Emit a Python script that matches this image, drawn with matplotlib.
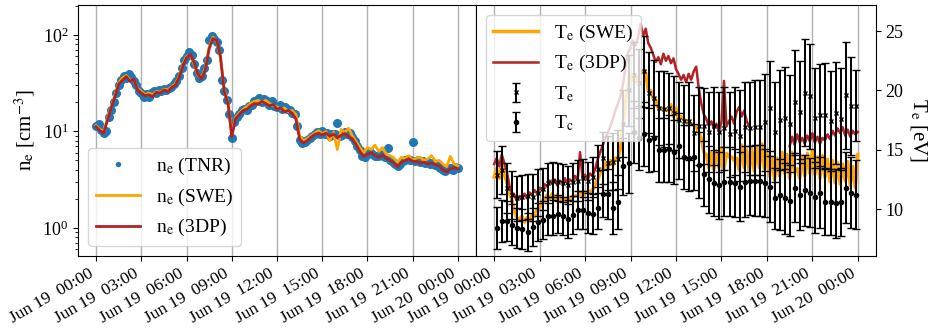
import numpy as np
import pandas as pd
import matplotlib
matplotlib.use("Agg")
import matplotlib.pyplot as plt
import matplotlib.dates as mdates

plt.rcParams['font.family'] = ['Liberation Serif', 'DejaVu Serif']
plt.rcParams['mathtext.fontset'] = 'stix'

# densidad electronica (cm^-3)
ne_tnr = [11.5, 12.0, 10.4, 9.6, 10.2, 14.0, 16.5, 20.0, 25.0, 30.0, 34.0, 38.0,
          36.0, 39.0, 37.0, 33.0, 30.0, 26.0, 25.0, 23.0, 24.5, 23.0, 25.0, 26.5,
          25.0, 27.0, 26.0, 27.5, 27.0, 28.5, 29.0, 31.0, 33.0, 38.0, 45.0, 55.0,
          60.0, 66.0, 62.0, 50.0, 40.0, 36.0, 38.0, 45.0, 55.0, 88.0, 98.0, 92.0,
          85.0, 70.0, 34.0, 26.0, 21.0, 15.0, 8.5, 12.5, 14.0, 15.0, 16.5, 17.0,
          16.5, 18.5, 19.0, 20.5, 21.0, 22.0, 20.0, 21.5, 20.5, 19.0, 20.5, 18.5,
          18.0, 19.0, 17.0, 18.0, 17.0, 16.5, 15.5, 15.0, 11.5, 8.2, 7.5, 7.8,
          8.2, 8.5, 9.0, 9.4, 9.8, 9.5, 10.0, 9.4, 9.6, 9.0, 9.3, 9.3,
          12.2, 9.0, 9.2, 9.8, 9.4, 9.6, 8.7, 8.0, 7.0, 6.4, 5.6, 5.4,
          5.8, 6.1, 5.9, 5.6, 5.5, 5.8, 5.6, 5.4, 6.7, 5.0, 4.8, 4.6,
          4.4, 4.6, 4.9, 5.0, 5.2, 5.1, 7.8, 4.9, 5.0, 4.8, 4.9, 4.7,
          4.8, 4.6, 4.7, 4.5, 4.4, 4.2, 4.0, 3.9, 4.1, 4.2, 4.0, 4.3, 4.2]

ne_swe = [11.5, 10.5, 10.0, 13.5, 18, 24, 32, 36, 38, 34, 34, 28, 26, 24, 25, 24,
          26, 25.5, 27.5, 27, 29, 31, 37, 50, 60, 62, 50, 38, 36, 46, 75, 95, 86,
          58, 27, 20, 9.5, 14, 15.5, 17, 18, 19.5, 20.5, 21, 20, 21, 19.5, 18.5,
          18, 17, 17.5, 16, 16.5, 15, 9.0, 8.0, 8.4, 9.0, 9.6, 10.2, 9.4, 10,
          8.0, 9.8, 6.5, 10.5, 9.8, 10.8, 9.0, 7.8, 6.8, 6.0, 6.8, 6.5, 7.2, 6.2,
          6.8, 5.8, 5.6, 5.3, 4.8, 5.4, 5.2, 5.6, 5.0, 5.3, 5.4, 5.0, 5.2, 5.6,
          4.9, 5.0, 4.6, 4.3, 5.5, 4.6, 4.4]

ne_3dp = [11.2, 10.2, 9.6, 13.0, 17.5, 23, 31, 34, 37, 33, 35, 27, 25, 23.5, 24, 23,
          25.5, 25, 27, 26, 28.5, 30, 36, 48, 58, 63, 52, 39, 35, 44, 72, 92, 88,
          60, 26, 19.5, 8.8, 13.5, 15, 16.5, 17, 18.5, 19.5, 19, 20.5, 19.5, 18.5,
          19, 17, 17.5, 16, 16.5, 15.5, 13.5, 8.3, 7.6, 8.0, 8.7, 9.3, 9.6, 9.2,
          9.6, 8.9, 9.4, 8.6, 9.1, 9.5, 8.8, 8.4, 7.3, 6.2, 5.5, 5.8, 6.0, 5.6,
          5.4, 5.7, 5.3, 5.0, 4.7, 4.3, 4.8, 5.0, 5.2, 4.9, 4.9, 4.7, 4.8, 4.6,
          4.7, 4.5, 4.4, 4.0, 3.8, 4.1, 4.2, 4.1]

# temperatura electronica (eV)
te_swe = [12.7, 13.4, 12.6, 13.8, 12.9, 12.3, 11.4, 10.8, 9.8, 9.3, 9.1, 9.4,
          8.9, 9.3, 9.0, 9.5, 9.4, 10.0, 10.1, 10.7, 10.7, 11.2, 10.9, 11.3,
          10.8, 11.2, 10.7, 11.1, 10.6, 11.0, 10.7, 11.1, 11.1, 11.1, 11.4, 11.1,
          11.5, 11.4, 11.5, 11.6, 12.1, 12.5, 13.1, 13.4, 13.9, 13.5, 14.1, 13.7,
          14.3, 14.3, 15.1, 16.9, 19.1, 20.4, 21.3, 20.9, 20.7, 21.1, 21.6, 21.6,
          21.5, 20.0, 20.0, 19.3, 19.2, 18.5, 18.5, 18.4, 18.4, 18.3, 18.8, 17.8,
          18.5, 17.6, 17.8, 17.6, 17.4, 17.3, 17.2, 17.1, 17.0, 16.4, 16.0, 14.8,
          14.6, 13.5, 14.8, 13.3, 14.9, 13.5, 15.2, 13.4, 14.7, 14.4, 14.4, 14.1,
          14.3, 13.3, 15.4, 13.5, 15.0, 13.2, 15.1, 13.2, 15.3, 13.5, 15.5, 13.4,
          14.8, 12.8, 14.4, 12.5, 14.3, 12.8, 14.8, 13.0, 14.6, 12.6, 14.8, 13.1,
          13.4, 12.6, 14.5, 12.8, 14.7, 13.0, 14.9, 12.9, 14.4, 12.6, 14.5, 12.7,
          14.2, 12.3, 14.1, 12.2, 13.9, 12.1, 13.8, 12.4, 14.0, 12.0, 13.6, 11.8, 14.6]

nan = np.nan
te_3dp = [13.8, 14.3, 13.6, 14.6, 13.9, 13.2, 12.0, 11.4, 11.2, 10.7, 11.1, 10.8,
          11.3, 10.9, 11.4, 11.2, 11.6, 11.3, 11.8, 11.6, 12.1, 11.9, 12.4, 12.1,
          12.5, 12.0, 12.4, 12.2, 12.6, 12.1, 12.5, 12.3, 12.8, 12.4, 14.8, 12.6,
          12.9, 12.5, 13.0, 12.8, 13.4, 14.2, 14.8, 15.4, 16.0, 16.4, 17.0, 17.6,
          18.3, 18.9, 19.5, 20.5, 22.0, 23.2, 23.6, 24.2, 23.8, 24.5, 25.6, 24.6,
          25.2, 24.0, 23.6, 23.0, 22.4, 22.8, 22.2, 23.1, 22.5, 22.9, 22.3, 22.7,
          21.8, 21.4, 20.9, 21.3, 20.7, 21.4, 20.9, 21.6, 22.0, 20.2, 18.9, 18.0,
          17.6, 17.0, 17.4, 16.8, 17.2, 16.6, 17.3, 20.8, 17.0, 17.4, 17.8, 17.2,
          18.2, 18.6, 17.8, 18.3, 17.4, 17.0,
          nan, nan, nan, nan, nan, nan, nan, nan, nan, nan, nan, nan, nan, nan, nan,
          15.3, 16.1, 15.4, 16.3, 15.6, 16.0, 15.5, 16.2, 15.7, 16.4, 15.6, 16.1,
          15.5, 16.0, 15.8, 16.3, 15.9, 16.6, 16.2, 16.8, 16.4, 16.9, 16.2, 16.7,
          16.1, 16.6, 16.3, 16.5]

te_fit = [12.9, 13.3, 11.8, 11.2, 10.9, 11.0, 11.1, 11.0, 11.4, 11.7, 12.2, 12.4,
          12.3, 12.2, 12.0, 12.3, 12.4, 12.6, 12.4, 12.7, 13.4, 14.3, 13.9, 14.0,
          14.2, 17.2, 20.0, 21.3, 20.6, 21.6, 19.8, 19.4, 18.5, 18.4, 18.5, 18.1,
          17.5, 17.4, 17.4, 16.4, 17.0, 17.0, 16.5, 17.0, 16.5, 16.8, 16.3, 16.6,
          16.2, 16.9, 16.8, 16.9, 16.9, 17.3, 18.5, 16.5, 17.5, 17.7, 17.2, 19.0,
          18.2, 19.8, 19.5, 17.7, 17.9, 17.9, 17.4, 18.1, 17.6, 19.6, 18.7, 18.7]
te_fit_err = [2.0, 2.0, 2.1, 2.0, 1.9, 1.9, 1.9, 2.0, 2.0, 1.8, 1.7, 1.6,
              1.6, 1.6, 1.6, 1.6, 1.7, 1.6, 1.6, 1.7, 2.0, 2.2, 2.3, 2.4,
              2.5, 2.8, 3.0, 2.8, 2.9, 3.0, 3.4, 3.2, 3.1, 3.2, 3.0, 3.1,
              3.2, 3.1, 3.3, 3.2, 3.3, 3.2, 3.4, 3.3, 3.4, 3.5, 3.6, 3.7,
              3.8, 3.8, 3.9, 4.0, 4.0, 4.1, 4.0, 4.2, 4.2, 4.3, 4.1, 4.4,
              4.3, 4.5, 4.4, 4.2, 4.3, 4.4, 4.2, 4.3, 4.3, 4.5, 4.1, 3.0]

tc_fit = [8.4, 9.0, 9.0, 8.7, 8.4, 8.3, 8.1, 8.5, 8.9, 9.1, 9.4, 9.4,
          9.6, 9.4, 9.2, 9.5, 9.9, 9.9, 9.7, 9.6, 10.1, 11.3, 11.3, 10.1,
          10.6, 13.6, 13.9, 16.5, 16.0, 16.3, 15.8, 16.0, 15.0, 15.0, 15.1, 14.8,
          15.3, 14.4, 14.3, 14.4, 13.7, 13.0, 12.5, 12.2, 12.0, 12.3, 12.3, 12.2,
          11.9, 12.3, 12.4, 12.4, 12.4, 12.2, 11.9, 10.9, 11.2, 10.9, 10.7, 11.8,
          11.2, 11.6, 11.4, 11.0, 11.4, 10.6, 10.6, 10.5, 10.6, 11.8, 11.4, 11.2]
tc_fit_err = [1.8, 1.8, 1.7, 1.7, 1.7, 1.7, 1.6, 1.6, 1.6, 1.6, 1.6, 1.6,
              1.6, 1.6, 1.6, 1.6, 1.6, 1.6, 1.7, 1.7, 1.8, 2.0, 2.1, 2.2,
              2.3, 2.4, 2.5, 2.6, 2.7, 2.7, 2.7, 2.8, 2.7, 2.7, 2.8, 2.7,
              2.8, 2.7, 2.8, 2.8, 2.8, 2.7, 2.8, 2.8, 2.8, 2.9, 2.9, 2.9,
              2.9, 3.0, 2.9, 3.0, 3.0, 2.9, 3.0, 2.6, 3.0, 3.0, 3.0, 2.9,
              3.0, 3.0, 2.9, 3.0, 3.0, 2.8, 2.8, 2.9, 2.9, 3.0, 3.0, 2.9]

inicio, fin = '2019-06-19 00:00', '2019-06-20 00:00'

def tiempos(serie):
    return pd.date_range(inicio, fin, periods=len(serie))

t_fit = pd.date_range('2019-06-19 00:12', periods=len(tc_fit), freq='20min')

fig = plt.figure(figsize=(9.34, 3.30), dpi=100)
ax1 = fig.add_axes([78/934, 74/330, 398/934, 251/330])
ax2 = fig.add_axes([476/934, 74/330, 400/934, 251/330])

# Panel izquierdo: densidad
ax1.plot(tiempos(ne_tnr), ne_tnr, 'o', color='tab:blue', ms=6.5, mew=0, label=r'n$_\mathrm{e}$ (TNR)')
ax1.plot(tiempos(ne_swe), ne_swe, color='orange', lw=2, label=r'n$_\mathrm{e}$ (SWE)')
ax1.plot(tiempos(ne_3dp), ne_3dp, color='firebrick', lw=2, label=r'n$_\mathrm{e}$ (3DP)')
ax1.set_yscale('log')
ax1.set_ylim(0.51, 205)
ax1.set_ylabel(r'n$_\mathrm{e}$ [cm$^{-3}$]', fontsize=15)
ax1.legend(loc='lower left', fontsize=14, handlelength=2.3, labelspacing=0.5,
           markerscale=0.6)

# Panel derecho: temperatura
ax2.plot(tiempos(te_swe), te_swe, color='orange', lw=2.5, label=r'T$_\mathrm{e}$ (SWE)')
ax2.plot(tiempos(te_3dp), te_3dp, color='firebrick', lw=1.8, label=r'T$_\mathrm{e}$ (3DP)')
ax2.errorbar(t_fit, te_fit, yerr=te_fit_err, fmt='x', color='black', ms=3,
             capsize=3, elinewidth=1.4, label=r'T$_\mathrm{e}$')
ax2.errorbar(t_fit, tc_fit, yerr=tc_fit_err, fmt='.', color='black', ms=6,
             capsize=3, elinewidth=1.4, label=r'T$_\mathrm{c}$')
ax2.set_ylim(6.05, 27.2)
ax2.set_yticks([10, 15, 20, 25])
ax2.yaxis.tick_right()
ax2.yaxis.set_label_position('right')
ax2.set_ylabel(r'T$_\mathrm{e}$ [eV]', fontsize=15, rotation=-90, labelpad=18)
ax2.legend(loc='upper left', fontsize=14, handlelength=2.3, labelspacing=0.5)

for ax in (ax1, ax2):
    ax.xaxis.set_major_locator(mdates.HourLocator(byhour=range(0, 24, 3)))
    ax.xaxis.set_major_formatter(mdates.DateFormatter('%b %d  %H:%M'))
    ax.grid(axis='x', color='#b0b0b0', lw=1)
    ax.tick_params(axis='y', labelsize=13)
    ax.tick_params(axis='x', labelsize=12.5)
    plt.setp(ax.get_xticklabels(), rotation=30, ha='right')

fig.savefig('out.png', dpi=100)
